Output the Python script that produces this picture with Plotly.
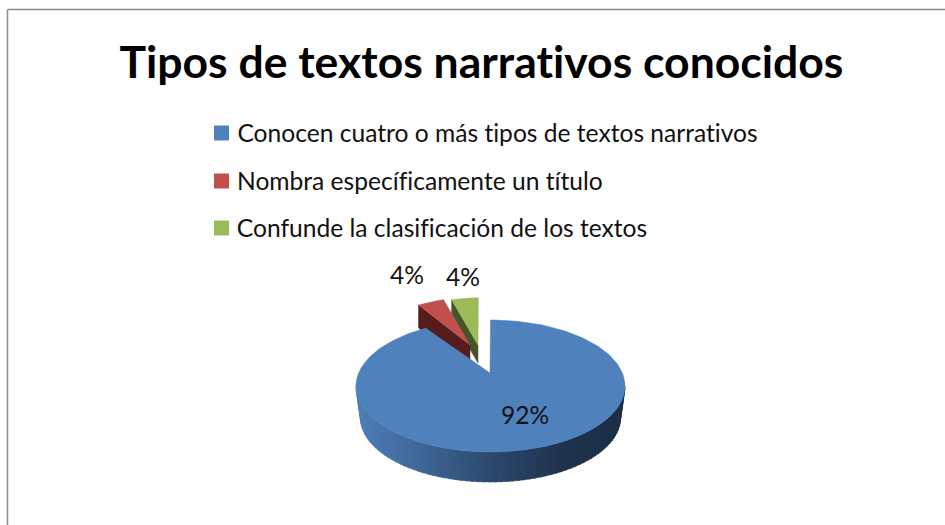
import math
import plotly.graph_objects as go

CATEGORIES = [
    "Conocen cuatro o más tipos de textos narrativos",
    "Nombra específicamente un título",
    "Confunde la clasificación de los textos",
]
VALUES = [92, 4, 4]
TITLE = "Tipos de textos narrativos conocidos"

TOP_COLORS = ["#4F81BD", "#C0504D", "#9BBB59"]
WALL_COLORS = [None, "#561C1B", "#45552A"]
FONT = "Lato, Carlito, Calibri, sans-serif"

# pixel-like scene frame (axes span the whole canvas)
W, H = 945, 525
CX, CY_TOP, RX, RY = 490.5, 386, 134.5, 66
APEX = (490, 373)
CY_BOT, RX_BOT, RY_BOT = 418, 130, 64
# exploded wedges: new apex, rim scale, wall depth
EXPLODE = {1: ((470, 345), 0.80, 0.89, 23), 2: ((478, 345), 0.80, 0.89, 18)}


def rim(theta, cx=CX, cy=CY_TOP, rx=RX, ry=RY):
    return cx + rx * math.sin(theta), cy - ry * math.cos(theta)


def lerp_color(stops, t):
    for (t0, c0), (t1, c1) in zip(stops, stops[1:]):
        if t <= t1:
            f = (t - t0) / (t1 - t0)
            return "rgb(%d,%d,%d)" % tuple(round(a + (b - a) * f) for a, b in zip(c0, c1))
    return "rgb(%d,%d,%d)" % stops[-1][1]


def poly(xs, ys, color, line=0.0):
    return go.Scatter(
        x=list(xs) + [xs[0]], y=list(ys) + [ys[0]], mode="lines", fill="toself",
        fillcolor=color, line=dict(color=color, width=line), hoverinfo="skip", showlegend=False,
    )


total = sum(VALUES)
spans, acc = [], 0.0
for v in VALUES:
    spans.append((acc / total * 2 * math.pi, (acc + v) / total * 2 * math.pi))
    acc += v

traces = []

# exploded wedges, back to front
for i in (2, 1):
    (ax, ay), sx, sy, depth = EXPLODE[i]
    a0, a1 = spans[i]
    pts = []
    for k in range(13):
        t = a0 + (a1 - a0) * k / 12
        px, py = rim(t)
        pts.append((ax + sx * (px - APEX[0]), ay + sy * (py - APEX[1])))
    lx, ly = pts[0]
    traces.append(poly([lx, ax, ax, lx], [ly, ay, ay + depth, ly + depth], WALL_COLORS[i], 0.5))
    traces.append(poly([ax] + [p[0] for p in pts], [ay] + [p[1] for p in pts], TOP_COLORS[i], 0.5))

# main slice: outer wall as shaded strips
STOPS = [(0.0, (78, 124, 182)), (0.18, (66, 108, 160)), (0.5, (44, 72, 108)),
         (0.78, (30, 50, 76)), (1.0, (28, 46, 70))]
N = 70
for k in range(N):
    t0 = math.pi / 2 + math.pi * k / N
    t1 = math.pi / 2 + math.pi * (k + 1.3) / N
    xa, ya = rim(t0)
    xb, yb = rim(t1)
    xc, yc = rim(t1, cy=CY_BOT, rx=RX_BOT, ry=RY_BOT)
    xd, yd = rim(t0, cy=CY_BOT, rx=RX_BOT, ry=RY_BOT)
    frac = 1 - ((xa + xb) / 2 - (CX - RX)) / (2 * RX)
    traces.append(poly([xa, xb, xc, xd], [ya, yb, yc, yd], lerp_color(STOPS, 1 - frac), 0.5))

# main slice: top face
a0, a1 = spans[0]
M = 180
top = [rim(a0 + (a1 - a0) * k / M) for k in range(M + 1)]
traces.append(poly([APEX[0]] + [p[0] for p in top], [APEX[1]] + [p[1] for p in top], TOP_COLORS[0], 0.5))

# legend swatches
LEG_Y = [133, 181, 228]
traces.append(go.Scatter(
    x=[221.5] * 3, y=LEG_Y, mode="markers", hoverinfo="skip", showlegend=False,
    marker=dict(symbol="square", size=15, color=TOP_COLORS, line=dict(width=0)),
))

annotations = [
    dict(x=481, y=60.5, text=f"<b>{TITLE}</b>", showarrow=False, xanchor="center", yanchor="middle",
         font=dict(family=FONT, size=44.5, color="#000000")),
]
for name, y in zip(CATEGORIES, LEG_Y):
    annotations.append(dict(x=237, y=y - 1, text=name, showarrow=False, xanchor="left", yanchor="middle",
                            xshift=-2, font=dict(family=FONT, size=24.6, color="#111111")))
for v, (x, y) in zip(VALUES, [(525, 414.5), (407, 274.5), (463, 276.5)]):
    annotations.append(dict(x=x, y=y, text=f"{v}%", showarrow=False, xanchor="center", yanchor="middle",
                            font=dict(family=FONT, size=24.6, color="#111111")))

border = dict(color="#8C8C8C", width=1.5)
shapes = [
    dict(type="line", x0=7.5, x1=7.5, y0=9.5, y1=H, line=border),
    dict(type="line", x0=7.5, x1=945, y0=9.5, y1=9.5, line=border),
]

fig = go.Figure(traces)
fig.update_layout(
    width=W, height=H, margin=dict(l=0, r=0, t=0, b=0), showlegend=False,
    paper_bgcolor="white", plot_bgcolor="white", annotations=annotations, shapes=shapes,
    xaxis=dict(range=[0, W], visible=False, fixedrange=True),
    yaxis=dict(range=[H, 0], visible=False, fixedrange=True),
)
fig.write_html("out.html", config={"displayModeBar": False},
               post_script="document.body.style.margin='0';document.body.style.overflow='hidden';"
                           "var s=document.createElement('style');"
                           "s.textContent='text{font-variant-ligatures:none !important}';"
                           "document.head.appendChild(s);")
